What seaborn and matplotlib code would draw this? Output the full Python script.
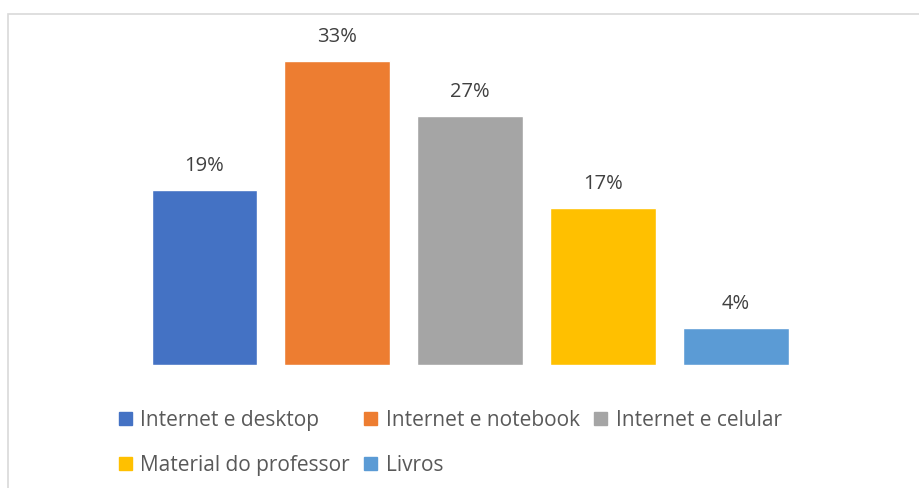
import matplotlib.pyplot as plt
import pandas as pd
import seaborn as sns
from matplotlib.patches import Rectangle

categorias = ["Internet e desktop", "Internet e notebook", "Internet e celular",
              "Material do professor", "Livros"]
valores = [19, 33, 27, 17, 4]
cores = ["#4472C4", "#ED7D31", "#A5A5A5", "#FFC000", "#5B9BD5"]

sns.set_style("white")
plt.rcParams["font.family"] = ["Open Sans", "DejaVu Sans"]

df = pd.DataFrame({"cat": categorias, "val": valores})

fig = plt.figure(figsize=(9.2, 4.88), dpi=100)
ax = fig.add_axes([0.1495, 0.252, 0.7228, 0.6606])
sns.barplot(data=df, x="cat", y="val", hue="cat", palette=cores,
            width=0.79, legend=False, ax=ax, saturation=1)
ax.set_xlim(-0.5, 4.5)
ax.set_ylim(0, 35)
ax.axis("off")

for i, v in enumerate(valores):
    ax.annotate(f"{v}%", (i, v), xytext=(0, 17.5), textcoords="offset points",
                ha="center", va="center", fontsize=14.5, color="#404040")

# legenda: ordem coluna a coluna para formar as linhas do original
ordem = [0, 3, 1, 4, 2]
handles = [Rectangle((0, 0), 1, 1, color=cores[i]) for i in ordem]
labels = [categorias[i] for i in ordem]
fig.legend(handles, labels, ncol=3, loc="upper left",
           bbox_to_anchor=(119 / 920, 1 - 410 / 488), frameon=False,
           fontsize=15, labelcolor="#595959", handlelength=0.62, handleheight=0.62,
           handletextpad=0.4, columnspacing=0.7, labelspacing=1.15,
           borderpad=0, borderaxespad=0)

# moldura do gráfico
fig.patches.append(Rectangle((8 / 920, -0.1), 1.1, 1 - 14 / 488 + 0.1,
                             transform=fig.transFigure, fill=False,
                             edgecolor="#D9D9D9", linewidth=1.2))

fig.savefig("out.png", dpi=100)
